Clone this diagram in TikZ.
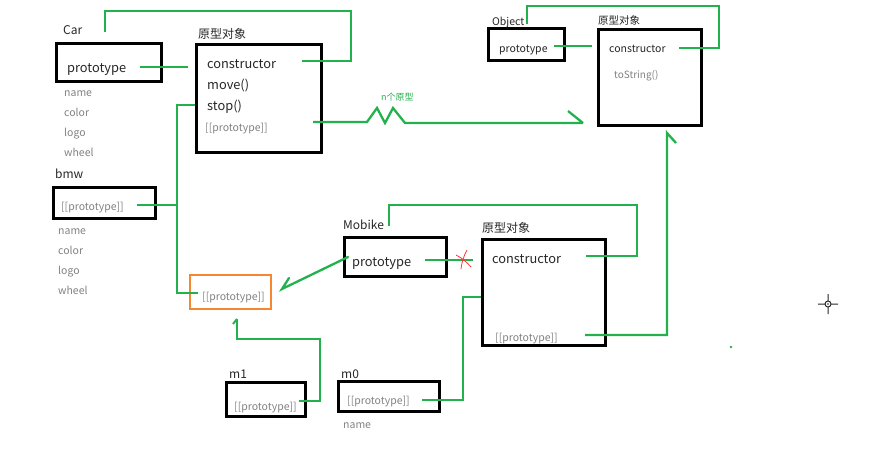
\documentclass[tikz,border=0pt]{standalone}
\usepackage{fontspec}
\setmainfont{Noto Sans CJK SC}
\usetikzlibrary{positioning, calc}
\definecolor{linkgreen}{RGB}{34,177,76}
\definecolor{slotgrey}{RGB}{130,130,130}
\definecolor{protoorange}{RGB}{245,135,50}
\tikzset{%
  objbox/.style={
    draw=black,
    line width=3.2pt,
    rectangle,
    inner sep=0pt},
  hidbox/.style={
    draw=protoorange,
    line width=2pt,
    rectangle,
    inner sep=0pt},
  objlabel/.style={
    anchor=west, inner sep=0pt, yshift=-2.5pt,
    text height=0.75em, text depth=0.25em,
    font=\fontsize{12}{14}\selectfont, text=black!85},
  member/.style={
    objlabel,
    font=\fontsize{12.8}{14}\selectfont},
  slot/.style={
    objlabel,
    font=\fontsize{10.5}{12}\selectfont, text=slotgrey},
  link/.style={
    draw=linkgreen,
    line width=2.3pt,
    line join=miter}
}

\begin{document}
\begin{tikzpicture}[x=1pt, y=-1pt]
    \useasboundingbox (0,0) rectangle (878,455);

    % boxes
    \node[objbox, minimum width=105, minimum height=38] (car) at (109,62.5) {};
    \node[objbox, minimum width=125, minimum height=108] (carproto) at (259,98.5) {};
    \node[objbox, minimum width=102, minimum height=31] (bmw) at (104.5,203) {};
    \node[hidbox, minimum width=81, minimum height=34] (hidden) at (230.5,292) {};
    \node[objbox, minimum width=102, minimum height=39] (mobike) at (395.5,257) {};
    \node[objbox, minimum width=123, minimum height=106] (mbproto) at (544,292.5) {};
    \node[objbox, minimum width=79, minimum height=34] (mone) at (266,399.5) {};
    \node[objbox, minimum width=101, minimum height=30] (mzero) at (389,396.5) {};
    \node[objbox, minimum width=76, minimum height=32] (object) at (526.5,44.5) {};
    \node[objbox, minimum width=103, minimum height=96] (objproto) at (650,77.5) {};

    % Car
    \node[objlabel] (carname) at (63,29) {Car};
    \node[member] (carp) at (67,67) {prototype};
    \node[slot] (cara) at (64,91) {name};
    \node[slot] (carb) at (64,111) {color};
    \node[slot] (carc) at (64,131) {logo};
    \node[slot] (card) at (64,151) {wheel};

    % Car prototype object
    \node[objlabel] (cpname) at (198,33) {原型对象};
    \node[member] (cpctor) at (207,63) {constructor};
    \node[member] (cpmove) at (207,84) {move()};
    \node[member] (cpstop) at (207,105) {stop()};
    \node[slot] (cpproto) at (205,126) {[[prototype]]};

    % bmw
    \node[objlabel] (bmwname) at (55,173) {bmw};
    \node[slot] (bmwp) at (61,205) {[[prototype]]};
    \node[slot] (bmwa) at (58,229) {name};
    \node[slot] (bmwb) at (58,249) {color};
    \node[slot] (bmwc) at (58,269) {logo};
    \node[slot] (bmwd) at (58,289) {wheel};

    \node[slot] (hidp) at (202,295) {[[prototype]]};

    % Object
    \node[objlabel, font=\fontsize{10.5}{12}\selectfont] (objname) at (492,20) {Object};
    \node[objlabel, font=\fontsize{10.5}{12}\selectfont] (objp) at (499,47) {prototype};
    \node[objlabel, font=\fontsize{10.5}{12}\selectfont] (opname) at (598,19) {原型对象};
    \node[objlabel, font=\fontsize{10.5}{12}\selectfont] (opctor) at (609,47) {constructor};
    \node[slot, font=\fontsize{10}{12}\selectfont] (optostr) at (614,73) {toString()};

    % Mobike
    \node[objlabel] (mbname) at (343,224) {Mobike};
    \node[member] (mbp) at (352,261) {prototype};
    \node[objlabel] (mpname) at (482,227) {原型对象};
    \node[member] (mpctor) at (492,258) {constructor};
    \node[slot] (mpproto) at (495,336) {[[prototype]]};

    % m1, m0
    \node[objlabel] (monename) at (229,373) {m1};
    \node[slot] (monep) at (234,405) {[[prototype]]};
    \node[objlabel] (mzeroname) at (341,373) {m0};
    \node[slot] (mzerop) at (347,399) {[[prototype]]};
    \node[slot] (mzeroa) at (343,423) {name};

    \node[objlabel, font=\fontsize{9}{10}\selectfont, text=linkgreen] (nproto) at (381,95) {n个原型};

    % link ends
    \coordinate (c1) at (105,32);   \coordinate (c2) at (302,61);
    \coordinate (c3) at (140,67);   \coordinate (c4) at (188,67);
    \coordinate (c5) at (195,105);  \coordinate (c6) at (198,293);
    \coordinate (c7) at (137,205);  \coordinate (c8) at (177,205);
    \coordinate (c9) at (313,122);  \coordinate (c10) at (583,123);
    \coordinate (o1) at (527,24);   \coordinate (o2) at (679,48);
    \coordinate (o3) at (554,46);   \coordinate (o4) at (592,46);
    \coordinate (m1) at (389,226);  \coordinate (m2) at (586,256);
    \coordinate (m3) at (425,260);  \coordinate (m4) at (473,260);
    \coordinate (m5) at (348,257);  \coordinate (m6) at (282,289);
    \coordinate (m7) at (481,297);  \coordinate (m8) at (422,400);
    \coordinate (m9) at (585,335);  \coordinate (m10) at (667,133);
    \coordinate (k1) at (299,401);  \coordinate (k2) at (237,319);

    \draw[link]
      (c1) -- (105,11) -- (351,11) -- (351,61) -- (c2)
      (c3) -- (c4)
      (c5) -- (177,105) -- (177,293) -- (c6)
      (c7) -- (c8)
      (o1) -- (527,6) -- (719,6) -- (719,48) -- (o2)
      (o3) -- (o4)
      (m1) -- (389,205) -- (637,205) -- (637,256) -- (m2)
      (m3) -- (m4)
      (m7) -- (463,297) -- (463,400) -- (m8)
      (k1) -- (320,401) -- (320,339) -- (237,339) -- (k2)
    ;
    % n prototypes
    \draw[link]
      (c9) -- (367,122) -- (377,108) -- (385,123) -- (393,108) -- (405,123) -- (c10)
      (c10) -- (568,111);
    % arrows with single barb
    \draw[link, line cap=round] (m5) -- (m6) -- (289,278);
    \draw[link] (m9) -- (667,335) -- (m10) -- (676,143);
    \draw[link, line width=2pt] (k2) -- (233,324);

    % crossed out link
    \draw[red!80, line width=0.8pt] (456,255) to[bend left=10] (471,267);
    \draw[red!80, line width=0.8pt] (467,250) to[bend right=10] (461,269);

    % cursor and stray dot
    \draw[black!85, line width=1pt] (828,304) circle (3)
      (818,304) -- (824.5,304) (831.5,304) -- (838,304)
      (828,294) -- (828,300.5) (828,307.5) -- (828,314);
    \fill[black!85] (828,304) circle (0.8);
    \fill[linkgreen] (731,347) circle (1.3);

\end{tikzpicture}
\end{document}
